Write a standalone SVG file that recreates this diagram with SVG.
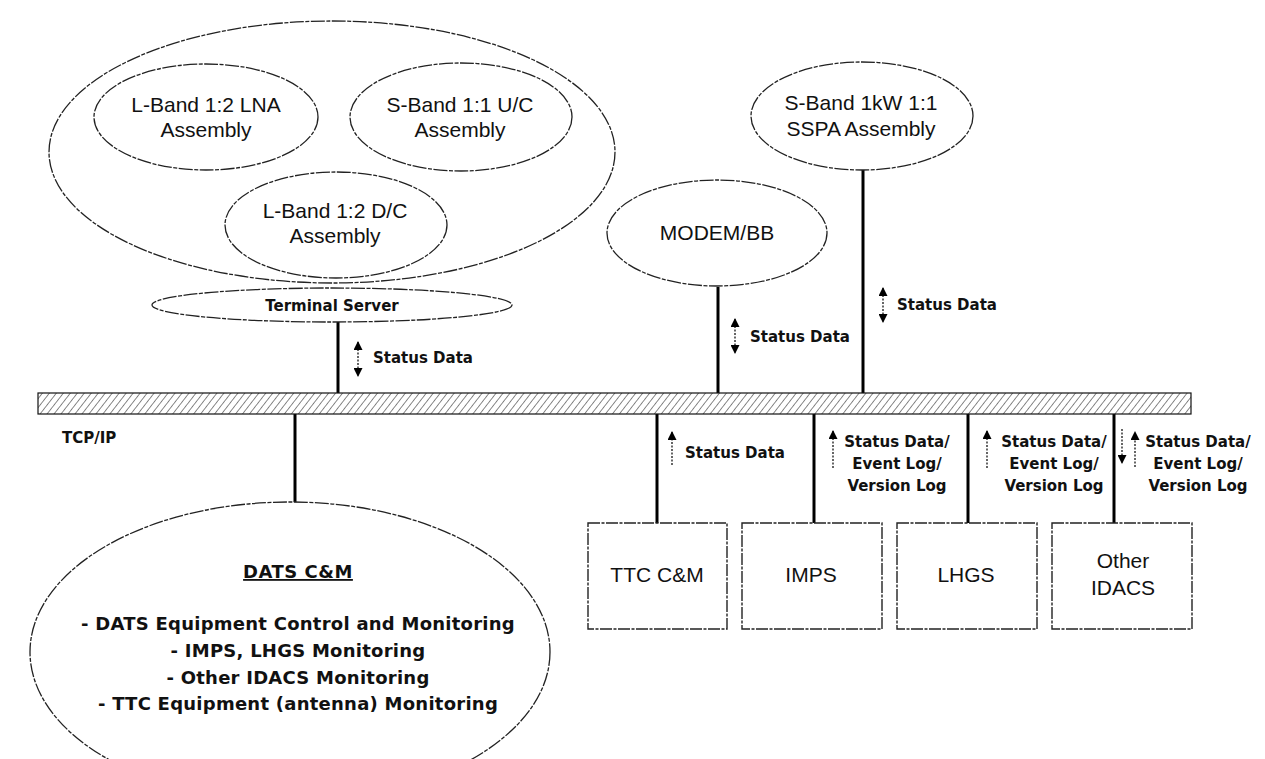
<svg xmlns="http://www.w3.org/2000/svg" width="1265" height="759" viewBox="0 0 1265 759">
<defs>
<pattern id="hatch" patternUnits="userSpaceOnUse" width="5.5" height="9" patternTransform="rotate(38)">
<line x1="0" y1="0" x2="0" y2="9" stroke="#111" stroke-width="1"/>
</pattern>
<marker id="head" viewBox="0 0 10 10" refX="9" refY="5" markerWidth="10" markerHeight="9" orient="auto-start-reverse" markerUnits="userSpaceOnUse">
<path d="M0,0 L10,5 L0,10 Z" fill="#000"/>
</marker>
</defs>
<style>
.sh{fill:#fff;stroke:#222;stroke-width:1.3;stroke-dasharray:14 1.5 4 1.5}
.bx{fill:#fff;stroke:#222;stroke-width:1.4;stroke-dasharray:12 1.5 3 1.5}
.ln{stroke:#000;stroke-width:3;fill:none}
.ar{stroke:#000;stroke-width:1.2;stroke-dasharray:2 1.5;fill:none}
.t{font-family:"Liberation Sans",Arial,sans-serif;font-size:21px;fill:#111;text-anchor:middle}
.b{font-family:"DejaVu Sans",sans-serif;font-weight:bold;font-size:15px;fill:#111}
.bc{text-anchor:middle}
.d{font-family:"DejaVu Sans",sans-serif;font-weight:bold;font-size:18px;fill:#111;text-anchor:middle}
</style>
<rect width="1265" height="759" fill="#fff"/>

<g id="connectors">
<line class="ln" x1="338" y1="322" x2="338" y2="393"/>
<line class="ln" x1="718" y1="287" x2="718" y2="393"/>
<line class="ln" x1="863" y1="170" x2="863" y2="393"/>
<line class="ln" x1="295" y1="414" x2="295" y2="503"/>
<line class="ln" x1="657" y1="414" x2="657" y2="523"/>
<line class="ln" x1="814" y1="414" x2="814" y2="523"/>
<line class="ln" x1="968" y1="414" x2="968" y2="523"/>
<line class="ln" x1="1114" y1="414" x2="1114" y2="523"/>
<line class="ar" x1="358" y1="342" x2="358" y2="376" marker-start="url(#head)" marker-end="url(#head)"/>
<line class="ar" x1="735" y1="319" x2="735" y2="353" marker-start="url(#head)" marker-end="url(#head)"/>
<line class="ar" x1="883" y1="288" x2="883" y2="322" marker-start="url(#head)" marker-end="url(#head)"/>
<line class="ar" x1="672" y1="465" x2="672" y2="432" marker-end="url(#head)"/>
<line class="ar" x1="833" y1="468" x2="833" y2="431" marker-end="url(#head)"/>
<line class="ar" x1="987" y1="468" x2="987" y2="431" marker-end="url(#head)"/>
<line class="ar" x1="1122" y1="429" x2="1122" y2="463" marker-end="url(#head)"/>
<line class="ar" x1="1135" y1="467" x2="1135" y2="432" marker-end="url(#head)"/>
<text class="b" x="373" y="363">Status Data</text>
<text class="b" x="750" y="342">Status Data</text>
<text class="b" x="897" y="310">Status Data</text>
<text class="b" x="685" y="458">Status Data</text>
<text class="b bc" x="897" y="447">Status Data/</text>
<text class="b bc" x="897" y="469">Event Log/</text>
<text class="b bc" x="897" y="491">Version Log</text>
<text class="b bc" x="1054" y="447">Status Data/</text>
<text class="b bc" x="1054" y="469">Event Log/</text>
<text class="b bc" x="1054" y="491">Version Log</text>
<text class="b bc" x="1198" y="447">Status Data/</text>
<text class="b bc" x="1198" y="469">Event Log/</text>
<text class="b bc" x="1198" y="491">Version Log</text>
</g>

<g id="tcpip-bus">
<rect x="38" y="393" width="1153" height="21" fill="url(#hatch)" stroke="#111" stroke-width="1.2"/>
<text class="b" x="62" y="443">TCP/IP</text>
</g>

<g id="dats-group">
<ellipse class="sh" cx="332" cy="152" rx="283" ry="131"/>
</g>
<g id="lna">
<ellipse class="sh" cx="206" cy="117" rx="112" ry="53"/>
<text class="t" x="206" y="112">L-Band 1:2 LNA</text>
<text class="t" x="206" y="137">Assembly</text>
</g>
<g id="upconv">
<ellipse class="sh" cx="461" cy="117" rx="111" ry="54"/>
<text class="t" x="460" y="112">S-Band 1:1 U/C</text>
<text class="t" x="460" y="137">Assembly</text>
</g>
<g id="downconv">
<ellipse class="sh" cx="336" cy="225" rx="111" ry="53"/>
<text class="t" x="335" y="218">L-Band 1:2 D/C</text>
<text class="t" x="335" y="243">Assembly</text>
</g>
<g id="terminal-server">
<ellipse class="sh" cx="332" cy="305" rx="180" ry="17"/>
<text class="b bc" x="332" y="311">Terminal Server</text>
</g>
<g id="modem">
<ellipse class="sh" cx="717" cy="233" rx="110" ry="53"/>
<text class="t" x="717" y="240">MODEM/BB</text>
</g>
<g id="sspa">
<ellipse class="sh" cx="862" cy="116" rx="111" ry="54"/>
<text class="t" x="861" y="110">S-Band 1kW 1:1</text>
<text class="t" x="861" y="136">SSPA Assembly</text>
</g>

<g id="dats-cm">
<ellipse class="sh" cx="290" cy="652" rx="260" ry="150"/>
<text class="d" x="298" y="578" text-decoration="underline" letter-spacing="0.5">DATS C&amp;M</text>
<text class="d" x="298" y="630" letter-spacing="0.25">- DATS Equipment Control and Monitoring</text>
<text class="d" x="298" y="657" letter-spacing="0.25">- IMPS, LHGS Monitoring</text>
<text class="d" x="298" y="684" letter-spacing="0.25">- Other IDACS Monitoring</text>
<text class="d" x="298" y="710" letter-spacing="0.25">- TTC Equipment (antenna) Monitoring</text>
</g>

<g id="ttc">
<rect class="bx" x="588" y="523" width="139" height="106"/>
<text class="t" x="657" y="582">TTC C&amp;M</text>
</g>
<g id="imps">
<rect class="bx" x="742" y="523" width="140" height="106"/>
<text class="t" x="811" y="582">IMPS</text>
</g>
<g id="lhgs">
<rect class="bx" x="897" y="523" width="140" height="106"/>
<text class="t" x="966" y="582">LHGS</text>
</g>
<g id="other-idacs">
<rect class="bx" x="1052" y="523" width="140" height="106"/>
<text class="t" x="1123" y="568">Other</text>
<text class="t" x="1123" y="595">IDACS</text>
</g>
</svg>
